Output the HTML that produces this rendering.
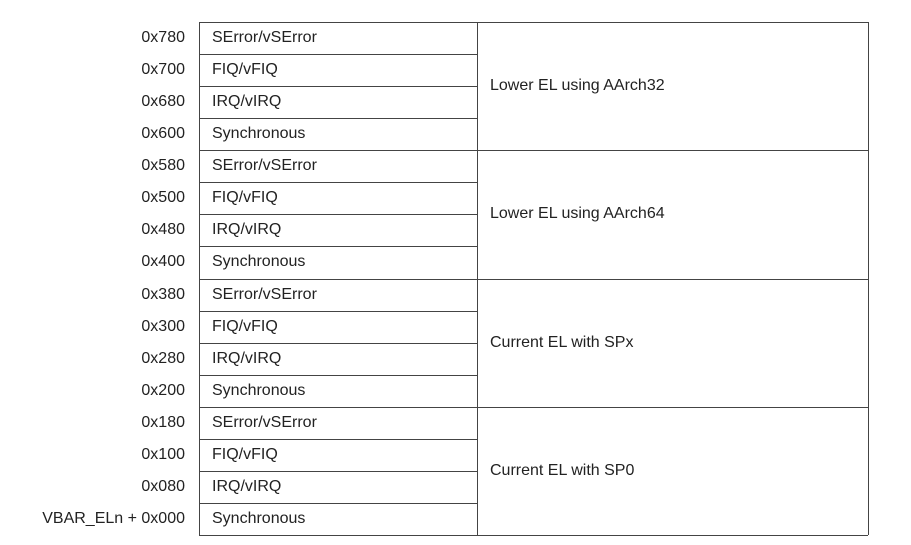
<!DOCTYPE html>
<html><head><meta charset="utf-8"><style>
body{margin:0;width:911px;height:545px;background:#fff;position:relative;overflow:hidden;font-family:"Liberation Sans",Arial,sans-serif;font-size:16px;color:#222}
.l{position:absolute;right:726px;height:32px;line-height:32px;white-space:nowrap}
.c{position:absolute;left:212px;height:32px;line-height:32px;white-space:nowrap}
.g{position:absolute;left:490px;line-height:32px;white-space:nowrap}
.h{position:absolute;left:199px;width:278px;height:0;border-top:1.3px solid #444}
.H{position:absolute;left:199px;width:669px;height:0;border-top:1.3px solid #444}
.v{position:absolute;top:22px;height:513px;width:0;border-left:1.3px solid #444}
</style></head><body>
<div class="v" style="left:199px"></div>
<div class="v" style="left:477px"></div>
<div class="v" style="left:868px"></div>
<div class="H" style="top:22px"></div>
<div class="h" style="top:54px"></div><div class="h" style="top:86px"></div><div class="h" style="top:118px"></div>
<div class="H" style="top:150px"></div>
<div class="h" style="top:182px"></div><div class="h" style="top:214px"></div><div class="h" style="top:246px"></div>
<div class="H" style="top:279px"></div>
<div class="h" style="top:311px"></div><div class="h" style="top:343px"></div><div class="h" style="top:375px"></div>
<div class="H" style="top:407px"></div>
<div class="h" style="top:439px"></div><div class="h" style="top:471px"></div><div class="h" style="top:503px"></div>
<div class="H" style="top:535px"></div>

<div class="l" style="top:22px">0x780</div><div class="c" style="top:22px">SError/vSError</div>
<div class="l" style="top:54px">0x700</div><div class="c" style="top:54px">FIQ/vFIQ</div>
<div class="l" style="top:86px">0x680</div><div class="c" style="top:86px">IRQ/vIRQ</div>
<div class="l" style="top:118px">0x600</div><div class="c" style="top:118px">Synchronous</div>
<div class="l" style="top:150px">0x580</div><div class="c" style="top:150px">SError/vSError</div>
<div class="l" style="top:182px">0x500</div><div class="c" style="top:182px">FIQ/vFIQ</div>
<div class="l" style="top:214px">0x480</div><div class="c" style="top:214px">IRQ/vIRQ</div>
<div class="l" style="top:246px">0x400</div><div class="c" style="top:246px">Synchronous</div>
<div class="l" style="top:279px">0x380</div><div class="c" style="top:279px">SError/vSError</div>
<div class="l" style="top:311px">0x300</div><div class="c" style="top:311px">FIQ/vFIQ</div>
<div class="l" style="top:343px">0x280</div><div class="c" style="top:343px">IRQ/vIRQ</div>
<div class="l" style="top:375px">0x200</div><div class="c" style="top:375px">Synchronous</div>
<div class="l" style="top:407px">0x180</div><div class="c" style="top:407px">SError/vSError</div>
<div class="l" style="top:439px">0x100</div><div class="c" style="top:439px">FIQ/vFIQ</div>
<div class="l" style="top:471px">0x080</div><div class="c" style="top:471px">IRQ/vIRQ</div>
<div class="l" style="top:503px">VBAR_ELn + 0x000</div><div class="c" style="top:503px">Synchronous</div>

<div class="g" style="top:70px">Lower EL using AArch32</div>
<div class="g" style="top:198px">Lower EL using AArch64</div>
<div class="g" style="top:327px">Current EL with SPx</div>
<div class="g" style="top:455px">Current EL with SP0</div>
</body></html>
